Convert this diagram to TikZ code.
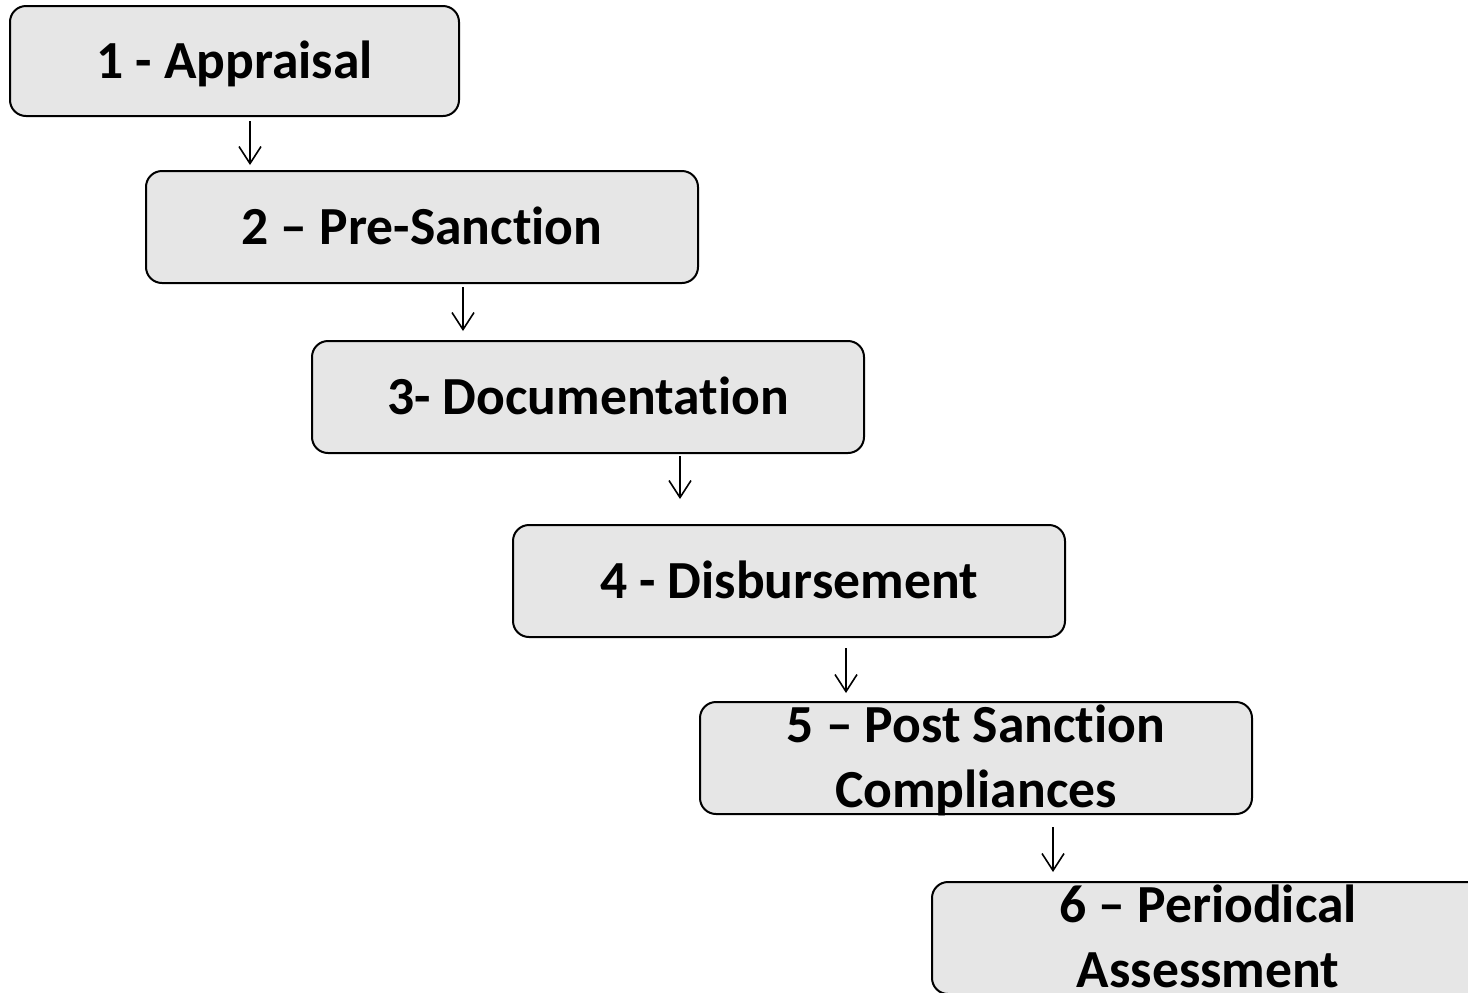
\documentclass[tikz,border=0pt]{standalone}
\usepackage{fontspec}
\setmainfont{Carlito}[Ligatures=NoCommon]
\usetikzlibrary{arrows.meta}
\definecolor{boxfill}{RGB}{230,230,230}
\tikzset{
  stage/.style={draw=black, line width=1pt, fill=boxfill, rounded corners=8pt,
    minimum width=276pt, minimum height=56pt, inner sep=0pt, align=center,
    text height=17.3pt, text depth=0pt},
  twoline/.style={text height=49.8pt},
  flow/.style={-{Straight Barb[length=8.5pt,width=11pt]}, line width=0.8pt}
}

\begin{document}
\begin{tikzpicture}[x=0.5pt, y=-0.5pt, font=\fontsize{26.8}{32.5}\selectfont\bfseries]
        \useasboundingbox (0,0) rectangle (1468,992);
        \clip (0,0) rectangle (1468,992);
        \node[stage, minimum width=224.5pt, minimum height=55pt] (appraisal) at (234.5,61) {1 - Appraisal};
        \node[stage] (presanction) at (422,227) {2 – Pre-Sanction};
        \node[stage] (documentation) at (588,397) {3- Documentation};
        \node[stage] (disbursement) at (789,581) {4 - Disbursement};
        \node[stage, twoline] (postsanction) at (976,758) {5 – Post Sanction\\Compliances};
        \node[stage, twoline] (periodical) at (1208,938) {6 – Periodical\\Assessment};
        \draw[flow, shorten <=2pt, shorten >=2.5pt] (appraisal.south -| 250,0) -- (presanction.north -| 250,0);
        \draw[flow, shorten <=1.5pt, shorten >=4.5pt] (presanction.south -| 463,0) -- (documentation.north -| 463,0);
        \draw[flow, shorten <=1pt, shorten >=12.5pt] (documentation.south -| 680,0) -- (disbursement.north -| 680,0);
        \draw[flow, shorten <=5pt, shorten >=4pt] (disbursement.south -| 846,0) -- (postsanction.north -| 846,0);
        \draw[flow, shorten <=6pt, shorten >=4.5pt] (postsanction.south -| 1053,0) -- (periodical.north -| 1053,0);
      \end{tikzpicture}
\end{document}
